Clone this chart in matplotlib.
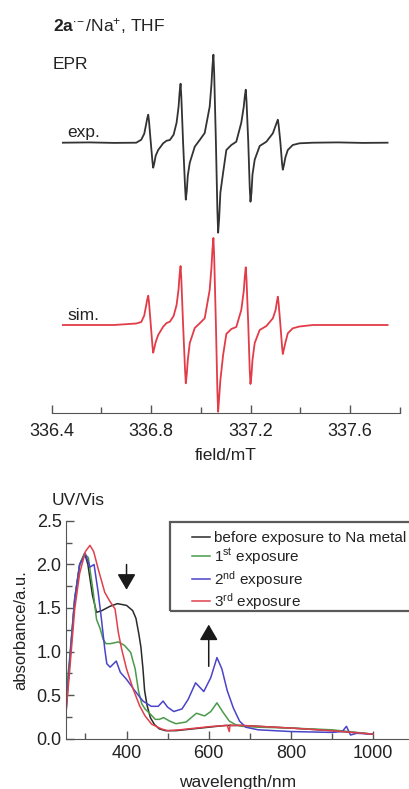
import matplotlib
matplotlib.use('Agg')
import matplotlib.pyplot as plt
from matplotlib.patches import Rectangle

plt.rcParams['font.family'] = ['Liberation Sans', 'DejaVu Sans']
plt.rcParams['mathtext.fontset'] = 'custom'
plt.rcParams['mathtext.rm'] = 'Liberation Sans'
plt.rcParams['mathtext.bf'] = 'Liberation Sans:bold'
plt.rcParams['mathtext.it'] = 'Liberation Sans:italic'

# ---------------- data: EPR ----------------
epr_field = [336.445, 336.55, 336.65, 336.74,
             336.760, 336.772, 336.780, 336.784, 336.788, 336.791, 336.798, 336.805, 336.808, 336.812,
             336.818, 336.828, 336.848, 336.862, 336.875,
             336.890, 336.902, 336.910, 336.914, 336.918, 336.921, 336.928, 336.936, 336.939, 336.943,
             336.947, 336.955, 336.975, 336.995, 337.015,
             337.035, 337.042, 337.046, 337.050, 337.053, 337.060, 337.066, 337.069, 337.073, 337.078,
             337.089, 337.102, 337.122, 337.142,
             337.162, 337.172, 337.176, 337.180, 337.183, 337.190, 337.196, 337.199, 337.203, 337.207,
             337.216, 337.236, 337.263,
             337.289, 337.300, 337.305, 337.309, 337.312, 337.319, 337.326, 337.329, 337.333, 337.339,
             337.349, 337.369, 337.396,
             337.45, 337.55, 337.65, 337.750]
epr_exp = [0, 0.03, -0.02, 0,
           0.3, 0.9, 1.9, 2.45, 2.8, 2.2, 0.1, -1.9, -2.5, -2.1,
           -1.3, -0.73, -0.06, 0.2, 0.27,
           0.8, 2.0, 3.6, 5.0, 5.9, 4.6, 0.1, -4.4, -5.7, -4.8,
           -3.3, -2.0, -0.4, 0.27, 0.97,
           3.6, 5.8, 7.6, 8.8, 7.0, 0.1, -6.8, -9.0, -7.6, -5.0,
           -3.0, -0.73, -0.23, 0.1,
           2.0, 3.6, 4.6, 5.3, 4.2, 0.1, -4.5, -5.9, -5.0, -3.2,
           -1.7, -0.33, 0.1,
           0.94, 1.7, 2.05, 2.3, 1.8, 0.1, -2.1, -2.7, -2.3, -1.5,
           -0.73, -0.23, -0.06,
           0, 0.03, -0.02, 0]
epr_sim = [0, 0, 0, 0.15,
           0.3, 0.95, 2.0, 2.55, 2.93, 2.3, 0.1, -2.1, -2.77, -2.35,
           -1.7, -1.0, -0.17, 0.2, 0.33,
           0.9, 2.0, 3.6, 5.0, 5.9, 4.6, 0.1, -4.5, -5.83, -4.9,
           -3.5, -1.8, -0.3, 0.17, 0.67,
           3.5, 5.7, 7.5, 8.7, 6.9, 0.1, -6.6, -8.67, -7.3, -5.5,
           -3.0, -0.9, -0.4, -0.2,
           1.5, 3.4, 4.8, 5.77, 4.6, 0.1, -4.5, -5.9, -5.0, -3.5,
           -1.8, -0.5, -0.1,
           0.67, 1.5, 2.3, 2.83, 2.2, 0.1, -2.2, -2.9, -2.45, -1.8,
           -0.83, -0.33, -0.15,
           0, 0, 0, 0]
epr_major_ticks = [336.4, 336.8, 337.2, 337.6]
epr_minor_ticks = [336.6, 337.0, 337.4, 337.8]

# ---------------- data: UV/Vis ----------------
wl_before = [252, 262, 274, 286, 298, 306, 317, 327, 340, 360, 378, 400, 415, 423, 430, 435, 440,
             444, 450, 458, 468, 480, 495, 520, 560, 600, 640, 680, 720, 800, 900, 1000]
abs_before = [0.30, 0.90, 1.60, 2.00, 2.13, 2.00, 1.65, 1.45, 1.47, 1.52, 1.55, 1.53, 1.47, 1.38,
              1.20, 1.05, 0.80, 0.55, 0.38, 0.24, 0.16, 0.11, 0.09, 0.09, 0.11, 0.13, 0.15, 0.15,
              0.14, 0.12, 0.09, 0.05]

wl_1st = [252, 262, 274, 286, 298, 307, 319, 327, 336, 343, 350, 360, 380, 395, 410, 421, 429, 437,
          445, 458, 470, 480, 490, 505, 520, 545, 570, 590, 605, 620, 635, 650, 665, 680, 720, 800,
          900, 1000]
abs_1st = [0.45, 0.95, 1.62, 2.00, 2.12, 2.08, 1.68, 1.37, 1.26, 1.14, 1.09, 1.09, 1.11, 1.07, 0.99,
           0.80, 0.55, 0.40, 0.34, 0.28, 0.22, 0.22, 0.24, 0.20, 0.17, 0.19, 0.29, 0.26, 0.31, 0.41,
           0.30, 0.20, 0.16, 0.14, 0.13, 0.12, 0.10, 0.05]

wl_2nd = [252, 262, 274, 286, 300, 311, 321, 331, 339, 347, 352, 360, 375, 385, 400, 420, 440, 460,
          477, 489, 500, 515, 535, 550, 568, 588, 605, 620, 632, 645, 660, 675, 690, 720, 800, 900,
          925, 935, 945, 960, 1000]
abs_2nd = [0.25, 0.90, 1.60, 2.00, 2.12, 1.97, 2.00, 1.68, 1.37, 1.03, 0.86, 0.82, 0.89, 0.76, 0.68,
           0.55, 0.43, 0.37, 0.37, 0.43, 0.36, 0.31, 0.34, 0.45, 0.64, 0.54, 0.70, 0.93, 0.80, 0.55,
           0.35, 0.20, 0.13, 0.10, 0.08, 0.07, 0.08, 0.14, 0.04, 0.06, 0.05]

wl_3rd = [252, 262, 274, 286, 300, 311, 320, 331, 347, 359, 372, 380, 388, 400, 416, 432, 445, 461,
          485, 500, 530, 570, 610, 645, 650, 652, 655, 680, 720, 800, 900, 1000]
abs_3rd = [0.25, 0.80, 1.49, 1.90, 2.15, 2.22, 2.15, 1.95, 1.68, 1.58, 1.49, 1.22, 1.03, 0.80, 0.57,
           0.375, 0.26, 0.165, 0.11, 0.09, 0.10, 0.12, 0.14, 0.15, 0.08, 0.16, 0.15, 0.15, 0.14, 0.12,
           0.09, 0.05]

uv_labels = ['before exposure to Na metal', '1$^{\\mathrm{st}}$ exposure',
             '2$^{\\mathrm{nd}}$ exposure', '3$^{\\mathrm{rd}}$ exposure']
uv_colors = ['#2a2a2a', '#4a9a4a', '#4a44c8', '#e0404c']
uv_xticks = [400, 600, 800, 1000]
uv_xminor = [300, 500, 700, 900]
uv_yticks = [0.0, 0.5, 1.0, 1.5, 2.0, 2.5]
uv_yminor = [0.25, 0.75, 1.25, 1.75, 2.25]

# ---------------- figure ----------------
W, H = 410, 789
fig = plt.figure(figsize=(W / 100, H / 100), dpi=100)


def fx(px):
    return px / W


def fy(py):
    return 1 - py / H


TXT = '#222222'
SPC = '#555555'

# EPR axes
ax1 = fig.add_axes([fx(51.7), fy(413), fx(400) - fx(51.7), fy(40) - fy(413)])
exp_off, sim_off = 27.03, 8.8
ax1.plot(epr_field, [v + exp_off for v in epr_exp], color='#333333', lw=1.3)
ax1.plot(epr_field, [v + sim_off for v in epr_sim], color='#e23c48', lw=1.3)
ax1.set_xlim(336.4, 337.8)
ax1.set_ylim(0, 37.3)
for s in ['left', 'right', 'top']:
    ax1.spines[s].set_visible(False)
ax1.spines['bottom'].set_color(SPC)
ax1.set_yticks([])
ax1.set_xticks(epr_major_ticks)
ax1.set_xticklabels([f'{t:.1f}' for t in epr_major_ticks])
ax1.set_xticks(epr_minor_ticks, minor=True)
ax1.tick_params(axis='x', which='major', direction='in', length=6, width=1, color=SPC,
                labelsize=13, labelcolor=TXT, pad=7)
ax1.tick_params(axis='x', which='minor', direction='in', length=4, width=1, color=SPC)
ax1.set_xlabel('field/mT', fontsize=12.5, color=TXT, labelpad=6)
ax1.patch.set_alpha(0)

fig.text(fx(52.7), fy(31.7), r'$\mathbf{2a}^{\bullet\!-}$/Na$^{+}$, THF', fontsize=12.5,
         color=TXT, va='baseline')
fig.text(fx(52.7), fy(69), 'EPR', fontsize=12.5, color=TXT, va='baseline')
fig.text(fx(67.3), fy(136.7), 'exp.', fontsize=12.5, color=TXT, va='baseline')
fig.text(fx(67.3), fy(319.5), 'sim.', fontsize=12.5, color=TXT, va='baseline')

# UV/Vis axes
ax2 = fig.add_axes([fx(65.7), fy(738.5), 1 - fx(65.7), fy(521) - fy(738.5)])
series = [(wl_before, abs_before), (wl_1st, abs_1st), (wl_2nd, abs_2nd), (wl_3rd, abs_3rd)]
handles = []
for (xs, ys), c, lab in zip(series, uv_colors, uv_labels):
    h, = ax2.plot(xs, ys, color=c, lw=1.1, label=lab)
    handles.append(h)
ax2.set_xlim(252, 252 + (410 - 65.7) / 0.411)
ax2.set_ylim(0, 2.5)
for s in ['right', 'top']:
    ax2.spines[s].set_visible(False)
for s in ['left', 'bottom']:
    ax2.spines[s].set_color(SPC)
ax2.set_xticks(uv_xticks)
ax2.set_xticks(uv_xminor, minor=True)
ax2.set_yticks(uv_yticks)
ax2.set_yticklabels([f'{t:.1f}' for t in uv_yticks])
ax2.set_yticks(uv_yminor, minor=True)
ax2.tick_params(which='major', direction='in', length=6, width=1, color=SPC,
                labelsize=13, labelcolor=TXT)
ax2.tick_params(axis='x', which='major', pad=5)
ax2.tick_params(axis='y', which='major', pad=3)
ax2.tick_params(which='minor', direction='in', length=4, width=1, color=SPC)
ax2.set_xlabel('wavelength/nm', fontsize=12.5, color=TXT, labelpad=9)
ax2.set_ylabel('absorbance/a.u.', fontsize=12, color=TXT, labelpad=6)
ax2.patch.set_alpha(0)

arrow_kw = dict(arrowstyle='-|>,head_width=0.56,head_length=0.96', color='#1a1a1a', lw=1.1,
                mutation_scale=10, shrinkA=0, shrinkB=0)
ax2.annotate('', xy=(400, 1.71), xytext=(400, 2.0), arrowprops=arrow_kw)
ax2.annotate('', xy=(600, 1.31), xytext=(600, 0.83), arrowprops=arrow_kw)

fig.text(fx(51.7), fy(505), 'UV/Vis', fontsize=12.5, color=TXT, va='baseline')

# legend with manual frame
fig.patches.append(Rectangle((fx(170), fy(611)), fx(420) - fx(170), fy(522) - fy(611),
                             transform=fig.transFigure, fill=False, edgecolor='#5a5a5a', lw=1.6))
leg = fig.legend(handles=handles, labels=uv_labels, loc='upper left',
                 bbox_to_anchor=(fx(192), fy(531)), bbox_transform=fig.transFigure,
                 frameon=False, fontsize=11, handlelength=1.2, handletextpad=0.25,
                 borderpad=0, borderaxespad=0, labelspacing=0.1)
for t in leg.get_texts():
    t.set_color(TXT)

fig.savefig('out.png', dpi=100)
